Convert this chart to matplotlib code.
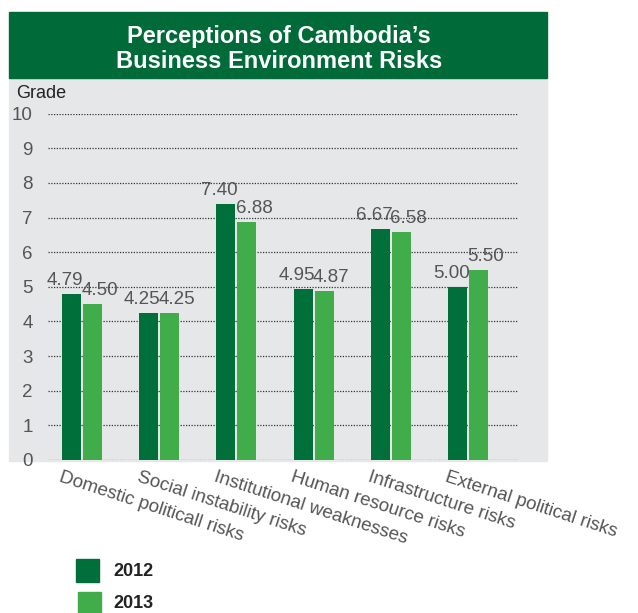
import matplotlib
matplotlib.use("Agg")
import matplotlib.pyplot as plt
from matplotlib.patches import Rectangle
import numpy as np

plt.rcParams['font.family'] = ['Liberation Sans', 'DejaVu Sans']

categories = ["Domestic politicall risks", "Social instability risks",
              "Institutional weaknesses", "Human resource risks",
              "Infrastructure risks", "External political risks"]
series_names = ["2012", "2013"]
values_2012 = [4.79, 4.25, 7.40, 4.95, 6.67, 5.00]
values_2013 = [4.50, 4.25, 6.88, 4.87, 6.58, 5.50]
yticks = list(range(0, 11))
title_lines = ["Perceptions of Cambodia\u2019s", "Business Environment Risks"]
ylabel = "Grade"

c_dark = "#006f3a"
c_light = "#41ad4a"
c_title = "#006b38"
c_panel = "#e6e7e8"
c_text = "#555555"

W, H = 638, 613
fig = plt.figure(figsize=(W / 100, H / 100), dpi=100)

def fx(px):
    return px / W

def fy(py):
    return 1 - py / H

# background panel and title box
fig.patches.append(Rectangle((fx(9), fy(461)), fx(547) - fx(9), fy(78) - fy(461),
                             transform=fig.transFigure, color=c_panel, zorder=0))
fig.patches.append(Rectangle((fx(9), fy(78)), fx(547) - fx(9), fy(12) - fy(78),
                             transform=fig.transFigure, color=c_title, zorder=0))
fig.text(fx(279), fy(36), title_lines[0], ha='center', va='center', color='white',
         fontsize=17, fontweight='bold')
fig.text(fx(279), fy(61), title_lines[1], ha='center', va='center', color='white',
         fontsize=17, fontweight='bold')

ax = fig.add_axes([fx(48), fy(460), fx(518) - fx(48), fy(113.7) - fy(460)])
ax.set_zorder(5)
ax.set_facecolor('none')
for s in ax.spines.values():
    s.set_visible(False)

x = np.arange(len(categories))
bw = 0.246
off = 0.136
ax.bar(x - off, values_2012, bw, color=c_dark, zorder=3)
ax.bar(x + off, values_2013, bw, color=c_light, zorder=3)

for xi, v in zip(x, values_2012):
    ax.annotate(f"{v:.2f}", (xi + 0.02, v), xytext=(0, 3.5), textcoords='offset points',
                ha='right', va='bottom', fontsize=13.5, color=c_text, zorder=4)
for xi, v in zip(x, values_2013):
    ax.annotate(f"{v:.2f}", (xi - 0.01, v), xytext=(0, 3.5), textcoords='offset points',
                ha='left', va='bottom', fontsize=13.5, color=c_text, zorder=4)

ax.set_xlim(-0.440, 5.648)
ax.set_ylim(0, 10)
ax.set_yticks(yticks)
ax.set_yticklabels([str(t) for t in yticks], fontsize=13.5, color=c_text)
ax.tick_params(axis='y', length=0, pad=11)
ax.set_xticks([])
for t in yticks:
    ax.axhline(t, color='#333333', lw=0.9, ls=(0, (1, 1.2)), zorder=1)

for xi, lab in zip(x, categories):
    ax.annotate(lab, (xi - 0.25, 0), xytext=(0, -6), textcoords='offset points',
                ha='left', va='top', rotation=-18, rotation_mode='anchor',
                fontsize=13.5, color=c_text, annotation_clip=False)

fig.text(fx(16), fy(94), ylabel, ha='left', va='center', fontsize=13, color='#222222')

# legend
fig.patches.append(Rectangle((fx(76), fy(582)), fx(99) - fx(76), fy(559) - fy(582),
                             transform=fig.transFigure, color=c_dark))
fig.patches.append(Rectangle((fx(78), fy(613)), fx(101) - fx(78), fy(592) - fy(613),
                             transform=fig.transFigure, color=c_light))
fig.text(fx(113), fy(571), series_names[0], ha='left', va='center', fontsize=13,
         fontweight='bold', color='#222222')
fig.text(fx(113), fy(603), series_names[1], ha='left', va='center', fontsize=13,
         fontweight='bold', color='#222222')

fig.savefig("out.png", dpi=100)
